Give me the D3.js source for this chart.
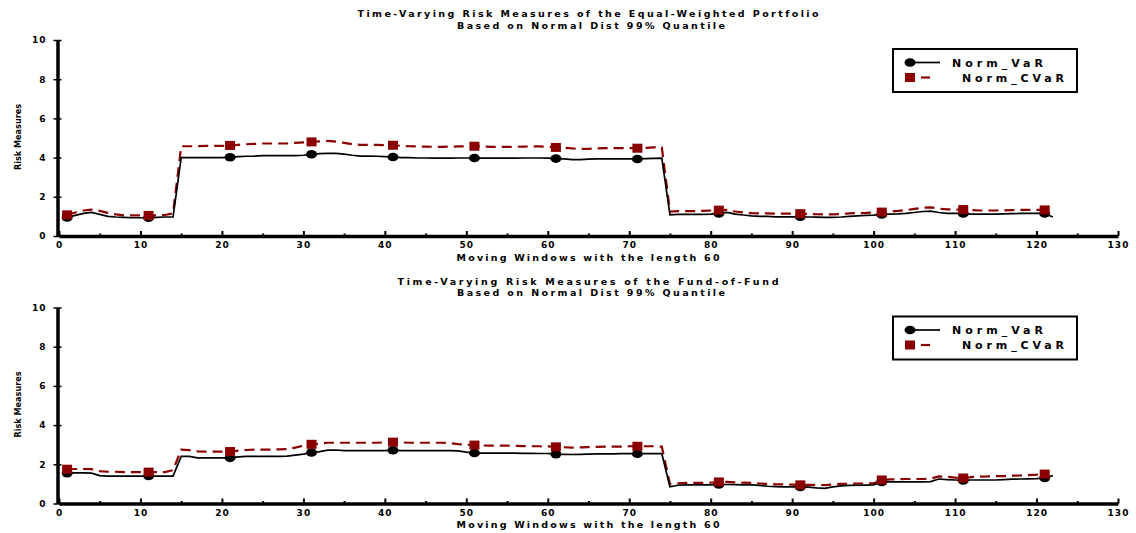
<!DOCTYPE html>
<html>
<head>
<meta charset="utf-8">
<script src="https://cdn.jsdelivr.net/npm/d3@7"></script>
<style>
  html, body { margin: 0; padding: 0; background: #fff; }
  svg { display: block; }
  text { font-family: "DejaVu Sans", sans-serif; font-weight: bold; fill: #000; }
</style>
</head>
<body>
<svg id="chart" width="1136" height="533"></svg>
<script>
// ---------------- DATA ----------------
const xTicks = [0,10,20,30,40,50,60,70,80,90,100,110,120,130];
const xMinorTicks = [5,15,25,35,45,55,65,75,85,95,105,115,125];
const yTicks = [0,2,4,6,8,10];
const seriesNames = ["Norm_VaR", "Norm_CVaR"];
const titlesTop = ["Time-Varying Risk Measures of the Equal-Weighted Portfolio", "Based on Normal Dist 99% Quantile"];
const titlesBottom = ["Time-Varying Risk Measures of the Fund-of-Fund", "Based on Normal Dist 99% Quantile"];
const xLabel = "Moving Windows with the length 60";
const yLabel = "Risk Measures";

// window index starts at 1
const eqVaR = [
0.95,1.05,1.15,1.2,1.1,1.0,0.97,0.95,0.93,0.93,
0.93,0.95,0.97,0.97,4.0,4.0,4.0,4.0,4.0,4.0,
4.02,4.05,4.07,4.08,4.1,4.1,4.1,4.1,4.1,4.12,
4.17,4.2,4.22,4.22,4.18,4.12,4.08,4.08,4.07,4.05,
4.03,4.0,4.0,3.98,3.98,3.97,3.97,3.97,3.98,3.98,
3.98,3.97,3.97,3.97,3.97,3.97,3.98,3.98,3.98,3.97,
3.95,3.93,3.9,3.9,3.92,3.93,3.93,3.93,3.93,3.93,
3.93,3.95,3.96,3.97,1.08,1.1,1.1,1.1,1.1,1.12,
1.15,1.2,1.12,1.07,1.03,1.0,1.0,0.98,0.98,0.98,
0.98,0.97,0.96,0.95,0.95,0.97,1.0,1.03,1.05,1.07,
1.1,1.12,1.13,1.15,1.2,1.25,1.27,1.2,1.15,1.15,
1.15,1.12,1.12,1.12,1.12,1.13,1.14,1.15,1.15,1.15,
1.15,0.97];
const eqCVaR = [
1.08,1.2,1.3,1.35,1.28,1.18,1.1,1.05,1.05,1.05,
1.05,1.05,1.07,1.15,4.58,4.58,4.58,4.6,4.6,4.6,
4.62,4.65,4.68,4.7,4.72,4.72,4.72,4.73,4.75,4.78,
4.8,4.83,4.85,4.82,4.75,4.68,4.65,4.65,4.65,4.64,
4.63,4.6,4.58,4.57,4.56,4.55,4.55,4.56,4.57,4.58,
4.58,4.57,4.55,4.55,4.55,4.55,4.56,4.57,4.57,4.56,
4.52,4.5,4.47,4.45,4.45,4.47,4.48,4.48,4.48,4.48,
4.48,4.5,4.52,4.52,1.25,1.27,1.27,1.27,1.28,1.3,
1.32,1.33,1.25,1.2,1.17,1.15,1.15,1.14,1.14,1.14,
1.14,1.12,1.11,1.1,1.1,1.12,1.15,1.17,1.18,1.2,
1.22,1.25,1.28,1.32,1.38,1.44,1.46,1.4,1.36,1.35,
1.35,1.32,1.3,1.3,1.3,1.31,1.32,1.33,1.33,1.33,
1.33];
const fofVaR = [
1.55,1.56,1.56,1.55,1.42,1.4,1.4,1.4,1.4,1.4,
1.4,1.4,1.4,1.4,2.4,2.4,2.33,2.33,2.33,2.33,
2.33,2.38,2.4,2.4,2.4,2.4,2.4,2.42,2.47,2.52,
2.6,2.65,2.72,2.73,2.7,2.7,2.7,2.7,2.7,2.7,
2.72,2.7,2.7,2.7,2.7,2.7,2.7,2.7,2.68,2.62,
2.58,2.57,2.57,2.57,2.57,2.57,2.56,2.56,2.55,2.55,
2.52,2.51,2.5,2.51,2.52,2.53,2.53,2.53,2.54,2.54,
2.54,2.54,2.54,2.54,0.85,0.93,0.95,0.95,0.95,0.95,
0.97,0.97,0.96,0.95,0.95,0.92,0.88,0.86,0.85,0.85,
0.85,0.84,0.8,0.77,0.85,0.9,0.92,0.93,0.94,0.95,
1.1,1.1,1.1,1.1,1.1,1.1,1.12,1.25,1.22,1.2,
1.18,1.2,1.2,1.2,1.2,1.22,1.24,1.25,1.26,1.27,
1.3,1.42];
const fofCVaR = [
1.75,1.76,1.76,1.75,1.65,1.62,1.62,1.6,1.6,1.6,
1.6,1.6,1.6,1.7,2.75,2.72,2.66,2.65,2.65,2.65,
2.65,2.7,2.73,2.75,2.75,2.75,2.76,2.78,2.85,2.95,
3.02,3.05,3.1,3.1,3.1,3.1,3.1,3.1,3.1,3.12,
3.13,3.12,3.1,3.1,3.1,3.1,3.1,3.08,3.03,3.0,
2.98,2.96,2.95,2.95,2.95,2.94,2.93,2.92,2.92,2.91,
2.89,2.87,2.85,2.86,2.88,2.89,2.9,2.9,2.9,2.92,
2.92,2.92,2.92,2.9,0.98,1.03,1.05,1.05,1.05,1.06,
1.1,1.1,1.08,1.06,1.05,1.02,1.0,0.98,0.97,0.96,
0.95,0.95,0.95,0.94,0.97,1.0,1.01,1.02,1.02,1.03,
1.2,1.23,1.24,1.25,1.25,1.25,1.27,1.38,1.36,1.32,
1.3,1.35,1.37,1.38,1.4,1.4,1.42,1.43,1.45,1.47,
1.5];

// ---------------- DRAW ----------------
const svg = d3.select("#chart");
const RED = "#8b0000";

function panel(offsetY, titles, varData, cvarData, titleWidths) {
  const g = svg.append("g").attr("transform", `translate(0,${offsetY})`);
  const x = d3.scaleLinear().domain([0, 130]).range([59, 1118]);
  const y = d3.scaleLinear().domain([0, 10]).range([236, 40]);

  // titles
  g.append("text").attr("x", 588).attr("y", 17).attr("text-anchor", "middle")
    .attr("font-size", 9.5).attr("textLength", titleWidths[0]).attr("lengthAdjust", "spacing")
    .text(titles[0]);
  g.append("text").attr("x", 591).attr("y", 28.5).attr("text-anchor", "middle")
    .attr("font-size", 9.5).attr("textLength", 268).attr("lengthAdjust", "spacing")
    .text(titles[1]);

  // x axis
  const xAxis = d3.axisBottom(x).tickValues(xTicks).tickSize(-5).tickSizeOuter(0).tickPadding(10)
    .tickFormat(d3.format("d"));
  const gx = g.append("g").attr("transform", `translate(0,${y(0)})`).call(xAxis);
  gx.select(".domain").attr("stroke", "#000").attr("stroke-width", 3.5);
  gx.selectAll(".tick line").attr("stroke", "#000").attr("stroke-width", 2);
  gx.selectAll(".tick text").attr("font-size", 9).attr("font-family", "DejaVu Sans")
    .attr("font-weight", "bold").attr("letter-spacing", 1).attr("dy", "0.25em");
  const xMinor = d3.axisBottom(x).tickValues(xMinorTicks).tickSize(-2.5).tickFormat("");
  const gxm = g.append("g").attr("transform", `translate(0,${y(0)})`).call(xMinor);
  gxm.select(".domain").remove();
  gxm.selectAll(".tick line").attr("stroke", "#000").attr("stroke-width", 2);

  // y axis
  const yAxis = d3.axisLeft(y).tickValues(yTicks).tickSize(4).tickSizeOuter(0).tickPadding(7)
    .tickFormat(d3.format("d"));
  const gy = g.append("g").attr("transform", `translate(${x(0) - 1.5},0)`).call(yAxis);
  gy.select(".domain").attr("stroke", "#000").attr("stroke-width", 3.5);
  gy.selectAll(".tick line").attr("stroke", "#000").attr("stroke-width", 1.5).attr("x2", 4).attr("x1", -4);
  gy.selectAll(".tick text").attr("font-size", 9).attr("font-family", "DejaVu Sans")
    .attr("font-weight", "bold").attr("letter-spacing", 1);

  // axis labels
  g.append("text").attr("x", 588).attr("y", 260.5).attr("text-anchor", "middle")
    .attr("font-size", 9.5).attr("textLength", 263).attr("lengthAdjust", "spacing").text(xLabel);
  g.append("text").attr("transform", `translate(20.5,${137}) rotate(-90)`).attr("text-anchor", "middle")
    .attr("font-size", 9).attr("textLength", 66).attr("lengthAdjust", "spacingAndGlyphs").text(yLabel);

  // lines
  const line = d3.line().x((d, i) => x(i + 1)).y(d => y(d));
  g.append("path").datum(cvarData).attr("d", line).attr("fill", "none")
    .attr("stroke", RED).attr("stroke-width", 2.2).attr("stroke-dasharray", "10,6");
  g.append("path").datum(varData).attr("d", line).attr("fill", "none")
    .attr("stroke", "#000").attr("stroke-width", 1.7);

  // markers every 10 windows
  const idx = d3.range(0, 121, 10);
  g.selectAll(".mv").data(idx.filter(i => i < varData.length)).enter().append("ellipse")
    .attr("cx", i => x(i + 1)).attr("cy", i => y(varData[i])).attr("rx", 5.5).attr("ry", 4.3)
    .attr("fill", "#000");
  g.selectAll(".mc").data(idx.filter(i => i < cvarData.length)).enter().append("rect")
    .attr("x", i => x(i + 1) - 5).attr("y", i => y(cvarData[i]) - 4.5).attr("width", 10).attr("height", 9)
    .attr("fill", RED);

  // legend
  const lg = g.append("g");
  lg.append("rect").attr("x", 893).attr("y", 49).attr("width", 184).attr("height", 43)
    .attr("fill", "#fff").attr("stroke", "#000").attr("stroke-width", 2);
  lg.append("line").attr("x1", 910).attr("x2", 940).attr("y1", 62.5).attr("y2", 62.5)
    .attr("stroke", "#000").attr("stroke-width", 1.7);
  lg.append("ellipse").attr("cx", 910).attr("cy", 62.5).attr("rx", 5.5).attr("ry", 4.3).attr("fill", "#000");
  lg.append("line").attr("x1", 921).attr("x2", 930).attr("y1", 77.5).attr("y2", 77.5)
    .attr("stroke", RED).attr("stroke-width", 2.2);
  lg.append("rect").attr("x", 905).attr("y", 73).attr("width", 10).attr("height", 9).attr("fill", RED);
  lg.append("text").attr("x", 952).attr("y", 66.5).attr("font-size", 11)
    .attr("textLength", 91).attr("lengthAdjust", "spacing").text(seriesNames[0]);
  lg.append("text").attr("x", 962).attr("y", 81.5).attr("font-size", 11)
    .attr("textLength", 102).attr("lengthAdjust", "spacing").text(seriesNames[1]);
}

panel(0, titlesTop, eqVaR, eqCVaR, [461]);
panel(267.5, titlesBottom, fofVaR, fofCVaR, [381]);
</script>
</body>
</html>
